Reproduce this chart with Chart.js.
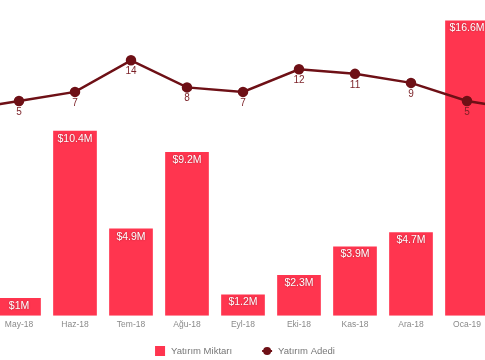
<!DOCTYPE html>
<html>
<head>
<meta charset="utf-8">
<script src="https://cdn.jsdelivr.net/npm/chart.js@4"></script>
<style>
  html, body { margin: 0; padding: 0; background: #fff; overflow: hidden; }
  #wrap { position: absolute; left: -65px; top: 0; width: 616px; height: 360px; }
</style>
</head>
<body>
<div id="wrap"><canvas id="grafik"></canvas></div>
<script>
// months (first and last are only partly in view)
const AYLAR = ['Nis-18', 'May-18', 'Haz-18', 'Tem-18', 'Ağu-18', 'Eyl-18', 'Eki-18', 'Kas-18', 'Ara-18', 'Oca-19', 'Şub-19']
// investment amount, million $
const MIKTAR = [null, 1, 10.4, 4.9, 9.2, 1.2, 2.3, 3.9, 4.7, 16.6, null]
// number of investments
const ADET = [3, 5, 7, 14, 8, 7, 12, 11, 9, 5, 3]

const KIRMIZI = '#ff354f'
const BORDO = '#6e1016'
const FONT = "'Liberation Sans', Arial, sans-serif"

// value labels + legend drawn on the canvas
const etiketler = {
    id: 'etiketler',
    afterDatasetsDraw(chart) {
        const ctx = chart.ctx
        ctx.save()
        ctx.textAlign = 'center'
        ctx.textBaseline = 'middle'

        ctx.font = '10.5px ' + FONT
        let bar = chart.getDatasetMeta(0)
        bar.data.forEach((el, i) => {
            let v = MIKTAR[i]
            if (v == null) return
            ctx.shadowColor = 'rgba(0,0,0,0.35)'
            ctx.shadowBlur = 2
            ctx.fillStyle = '#fff'
            ctx.fillText('$' + v + 'M', el.x, el.y + 8)
        })
        ctx.shadowColor = 'transparent'
        ctx.shadowBlur = 0

        ctx.font = '10px ' + FONT
        let line = chart.getDatasetMeta(1)
        ctx.fillStyle = '#7a1f25'
        line.data.forEach((el, i) => {
            ctx.fillText(String(ADET[i]), el.x, el.y + 11)
        })
        ctx.restore()
    },
    afterDraw(chart) {
        const ctx = chart.ctx
        const ds = chart.data.datasets
        ctx.save()
        ctx.font = '9.5px ' + FONT
        ctx.textBaseline = 'middle'
        ctx.textAlign = 'left'
        let w1 = ctx.measureText(ds[0].label).width
        let w2 = ctx.measureText(ds[1].label).width
        let toplam = 10 + 6 + w1 + 30 + 10 + 6 + w2
        let x = chart.width / 2 - toplam / 2 + 2
        let y = 351
        ctx.fillStyle = KIRMIZI
        ctx.fillRect(x, y - 5, 10, 10)
        ctx.fillStyle = '#777'
        ctx.fillText(ds[0].label, x + 16, y)
        x += 16 + w1 + 30
        ctx.strokeStyle = BORDO
        ctx.lineWidth = 2
        ctx.beginPath()
        ctx.moveTo(x, y)
        ctx.lineTo(x + 10, y)
        ctx.stroke()
        ctx.fillStyle = BORDO
        ctx.beginPath()
        ctx.arc(x + 5, y, 4, 0, Math.PI * 2)
        ctx.fill()
        ctx.fillStyle = '#777'
        ctx.fillText(ds[1].label, x + 16, y)
        ctx.restore()
    }
}

var ctx = document.getElementById('grafik').getContext('2d');
var grafik = new Chart(ctx, {
    type: 'bar',
    data: {
        labels: AYLAR,
        datasets: [{
            label: 'Yatırım Miktarı',
            data: MIKTAR,
            backgroundColor: KIRMIZI,
            borderWidth: 0,
            barPercentage: 1,
            categoryPercentage: 0.78,
            yAxisID: 'y',
            order: 2
        }, {
            type: 'line',
            label: 'Yatırım Adedi',
            data: ADET,
            borderColor: BORDO,
            backgroundColor: BORDO,
            borderWidth: 2.5,
            pointRadius: 4,
            pointHoverRadius: 4,
            tension: 0,
            yAxisID: 'y1',
            order: 1
        }]
    },
    options: {
        responsive: true,
        maintainAspectRatio: false,
        animation: false,
        layout: { autoPadding: false, padding: { top: 0, left: 0, right: 0, bottom: 26 } },
        plugins: {
            legend: { display: false },
            tooltip: { enabled: false }
        },
        scales: {
            x: {
                grid: { display: false, drawTicks: false },
                border: { display: false },
                ticks: {
                    color: '#8a8a8a',
                    font: { family: FONT, size: 8.5 },
                    padding: 4,
                    maxRotation: 0,
                    autoSkip: false
                }
            },
            y: { display: false, min: 0, max: 17.75 },
            y1: { display: false, min: -42.57, max: 27.35 }
        }
    },
    plugins: [etiketler]
})
</script>
</body>
</html>
